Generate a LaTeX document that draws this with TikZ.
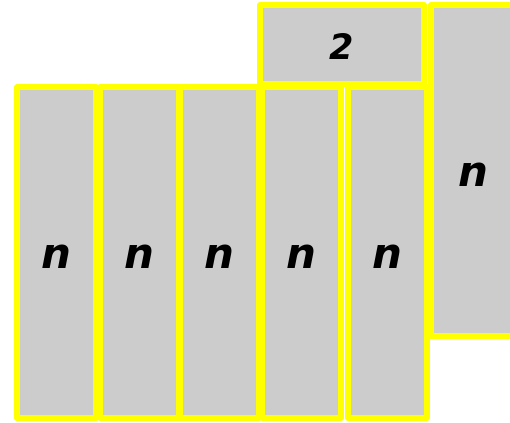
\documentclass[tikz,border=0pt]{standalone}
\usepackage{fontspec}
\newfontfamily\dvfont{DejaVu Sans}
\definecolor{boxgray}{RGB}{204,204,204}
\definecolor{edgeyellow}{RGB}{255,255,0}
\begin{document}
\begin{tikzpicture}[x=1pt,y=-1pt,
  cell/.style={fill=boxgray,draw=edgeyellow,line width=6pt,line join=round},
  lbl/.style={font=\dvfont\bfseries\itshape\fontsize{42}{42}\selectfont,inner sep=0pt},
  lbltwo/.style={font=\dvfont\bfseries\itshape\fontsize{35}{35}\selectfont,inner sep=0pt}]
\useasboundingbox (0,0) rectangle (510,422);
\begin{scope}
\clip (0,0) rectangle (510,422);
\draw[cell] (260,5) rectangle (424,84) coordinate[pos=0.5] (top);
\draw[cell] (431,5) rectangle (515,336) coordinate[pos=0.5] (right);
\draw[cell] (17,87) rectangle (96,418) coordinate[pos=0.5] (c1);
\draw[cell] (100,87) rectangle (179,418) coordinate[pos=0.5] (c2);
\draw[cell] (180,87) rectangle (259,418) coordinate[pos=0.5] (c3);
\draw[cell] (262,87) rectangle (341,418) coordinate[pos=0.5] (c4);
\draw[cell] (348,87) rectangle (427,418) coordinate[pos=0.5] (c5);
\end{scope}
\node[lbltwo] (t2) at ([yshift=-2.5pt]top) {2};
\node[lbl] (tr) at ([yshift=-4.5pt]right) {n};
\node[lbl] (t1) at ([yshift=-4.5pt]c1) {n};
\node[lbl] (t2b) at ([yshift=-4.5pt]c2) {n};
\node[lbl] (t3) at ([yshift=-4.5pt]c3) {n};
\node[lbl] (t4) at ([yshift=-4.5pt]c4) {n};
\node[lbl] (t5) at ([yshift=-4.5pt]c5) {n};
\end{tikzpicture}
\end{document}
